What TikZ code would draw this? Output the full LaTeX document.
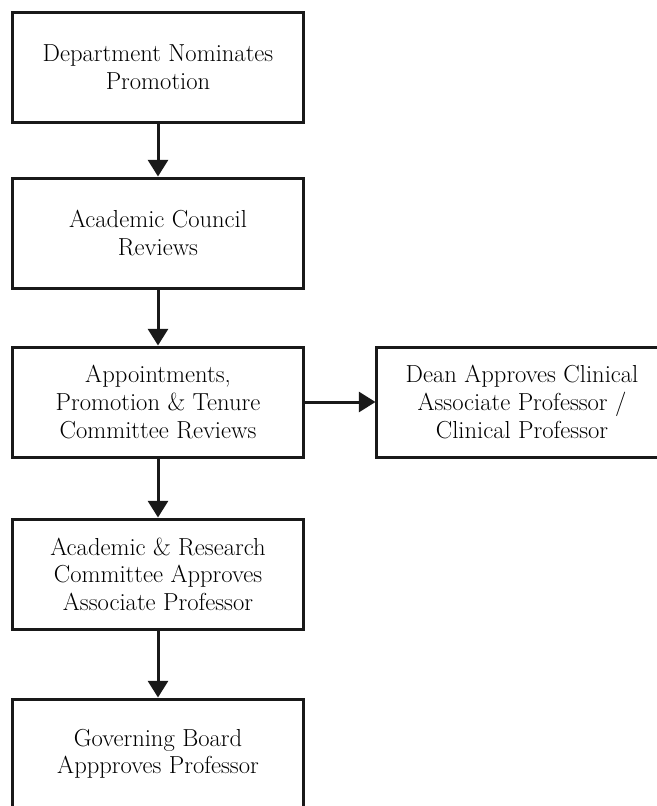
\documentclass[tikz,border=0pt]{standalone}
\usepackage{fontspec}
\usepackage{tikz}
\usetikzlibrary{arrows.meta}

\begin{document}
\begin{tikzpicture}[x=0.03cm,y=-0.03cm,
        box/.style={draw=black!90,line width=0.09cm,minimum width=8.7cm,minimum height=3.3cm,
            align=center,font=\fontsize{21}{23.5}\selectfont,inner sep=0pt},
        flow/.style={draw=black!90,line width=0.09cm,-{Triangle[length=0.5cm,width=0.6cm]}}]
                \useasboundingbox (0,0) rectangle (657,806);
                \clip (0,0) rectangle (657,806);

                \node[box] (dept) at (158,67) {Department Nominates\\Promotion};
                \node[box] (council) at (158,233) {Academic Council\\Reviews};
                \node[box] (aptc) at (158,402) {Appointments,\\Promotion \& Tenure\\Committee Reviews};
                \node[box] (arc) at (158,574) {Academic \& Research\\Committee Approves\\Associate Professor};
                \node[box] (board) at (158,754) {Governing Board\\Appproves Professor};
                \node[box] (dean) at (522,402) {Dean Approves Clinical\\Associate Professor /\\Clinical Professor};

                % Pfeile
                \draw[flow](dept)--(council);
                \draw[flow](council)--(aptc);
                \draw[flow](aptc)--(arc);
                \draw[flow](arc)--(board);
                \draw[flow](aptc)--(dean);

            \end{tikzpicture}
\end{document}
